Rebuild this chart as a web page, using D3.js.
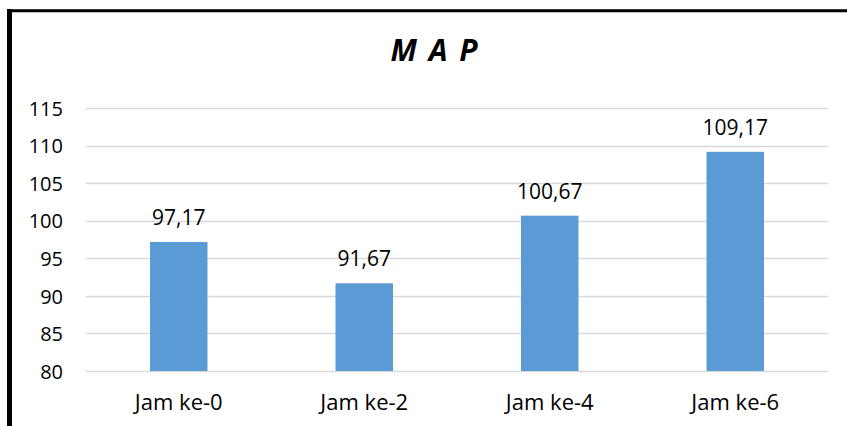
<!DOCTYPE html>
<html>
<head>
<meta charset="utf-8">
<script src="https://cdn.jsdelivr.net/npm/d3@7"></script>
<style>
  html, body { margin: 0; padding: 0; background: #fff; }
  svg { display: block; }
  text { font-family: "Open Sans", "Liberation Sans", sans-serif; fill: #000; }
</style>
</head>
<body>
<svg id="chart" width="847" height="426"></svg>
<script>
// Mean arterial pressure per measurement hour
const categories = ["Jam ke-0", "Jam ke-2", "Jam ke-4", "Jam ke-6"];
const mapValues = [97.17, 91.67, 100.67, 109.17];
const yTicks = [80, 85, 90, 95, 100, 105, 110, 115];
const chartTitle = "M A P";

const svg = d3.select("#chart");
const W = 847, H = 426;
const plot = { left: 86, right: 828, top: 108, bottom: 371 };

svg.append("rect").attr("width", W).attr("height", H).attr("fill", "#fff");

const x = d3.scaleBand().domain(categories).range([plot.left, plot.right]).padding(0);
const y = d3.scaleLinear().domain([80, 115]).range([plot.bottom, plot.top]);
const barW = x.bandwidth() * 0.31;

// gridlines
svg.append("g")
  .selectAll("line").data(yTicks).join("line")
  .attr("x1", plot.left).attr("x2", plot.right)
  .attr("y1", d => Math.round(y(d)) + 0.5).attr("y2", d => Math.round(y(d)) + 0.5)
  .attr("stroke", "#d9d9d9").attr("stroke-width", 1.3);

// y axis labels
const yAxis = d3.axisLeft(y).tickValues(yTicks).tickSize(0).tickPadding(0);
const gy = svg.append("g").attr("transform", `translate(63,0)`).call(yAxis);
gy.select(".domain").remove();
gy.selectAll("text").style("font-size", "20px").style("font-family", "'Open Sans', sans-serif")
  .attr("fill", "#000").attr("dy", "0.36em");

// bars
svg.append("g").selectAll("rect").data(mapValues).join("rect")
  .attr("x", (d, i) => x(categories[i]) + x.bandwidth() / 2 - barW / 2)
  .attr("width", barW)
  .attr("y", d => y(d))
  .attr("height", d => y(80) - y(d))
  .attr("fill", "#5b9bd5");

// value labels
svg.append("g").selectAll("text").data(mapValues).join("text")
  .attr("x", (d, i) => x(categories[i]) + x.bandwidth() / 2)
  .attr("y", d => y(d) - 17)
  .attr("text-anchor", "middle")
  .style("font-size", "21px")
  .text(d => d.toFixed(2).replace(".", ","));

// category axis
const xAxis = d3.axisBottom(x).tickSize(0).tickPadding(0);
const gx = svg.append("g").attr("transform", `translate(0,${plot.bottom})`).call(xAxis);
gx.select(".domain").remove();
gx.selectAll("text").style("font-size", "22px").style("font-family", "'Open Sans', sans-serif")
  .attr("fill", "#000").attr("dy", null).attr("y", 39);

// title
svg.append("text")
  .attr("x", 435).attr("y", 61)
  .attr("text-anchor", "middle")
  .style("font-size", "30px").style("font-weight", "bold").style("font-style", "italic")
  .style("letter-spacing", "2px")
  .text(chartTitle);

// frame edges
svg.append("line").attr("x1", 9.5).attr("x2", 9.5).attr("y1", 9).attr("y2", H)
  .attr("stroke", "#000").attr("stroke-width", 5);
svg.append("line").attr("x1", 7).attr("x2", W).attr("y1", 10.8).attr("y2", 10.8)
  .attr("stroke", "#000").attr("stroke-width", 3);
</script>
</body>
</html>
